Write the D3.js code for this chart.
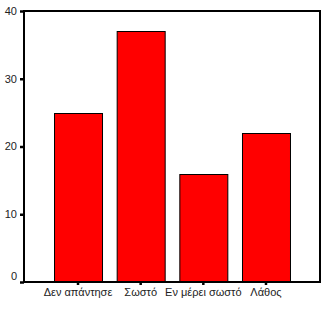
<!DOCTYPE html>
<html>
<head>
<meta charset="utf-8">
<script src="https://cdn.jsdelivr.net/npm/d3@7"></script>
<style>
  body { margin: 0; background: #fff; }
  svg { display: block; }
  .axis text { font-family: "Liberation Sans", Arial, sans-serif; font-size: 11px; fill: #222; }
  .axis path { display: none; }
  .axis line { stroke: #000; stroke-width: 2.5; }
</style>
</head>
<body>
<script>
var categories = ["Δεν απάντησε", "Σωστό", "Εν μέρει σωστό", "Λάθος"];
var counts = [25, 37, 16, 22];
var yTicks = [0, 10, 20, 30, 40];

var margin = {top: 11, right: 12, bottom: 27, left: 24}
  , width = 332 - margin.left - margin.right
  , height = 309 - margin.top - margin.bottom;

var xScale = d3.scaleBand().domain(categories).range([0, width])
    .paddingInner(0.234).paddingOuter(0.479);
var yScale = d3.scaleLinear().domain([0, 40]).range([height, 0]);

var svg = d3.select("body").append("svg")
    .attr("width", 332)
    .attr("height", 309)
  .append("g")
    .attr("transform", "translate(" + margin.left + "," + margin.top + ")");

svg.selectAll(".bar")
    .data(counts)
  .enter().append("rect")
    .attr("class", "bar")
    .attr("x", function(d, i) { return xScale(categories[i]) + 0.5; })
    .attr("y", function(d) { return Math.round(yScale(d)) + 0.5; })
    .attr("width", xScale.bandwidth())
    .attr("height", function(d) { return height - Math.round(yScale(d)); })
    .attr("fill", "#ff0000")
    .attr("stroke", "#000")
    .attr("stroke-width", 1);

// frame round the plot
svg.append("rect")
    .attr("x", 0).attr("y", 0)
    .attr("width", width).attr("height", height)
    .attr("fill", "none")
    .attr("stroke", "#000")
    .attr("stroke-width", 2);

svg.append("g")
    .attr("class", "x axis")
    .attr("transform", "translate(0," + height + ")")
    .call(d3.axisBottom(xScale).tickSize(3).tickPadding(3));

svg.append("g")
    .attr("class", "y axis")
    .call(d3.axisLeft(yScale).tickValues(yTicks).tickSize(4).tickPadding(3));

// the zero label sits a little above the axis line
svg.selectAll(".y.axis text")
    .attr("dy", function(d) { return d === 0 ? "-0.25em" : "0.3em"; });
</script>
</body>
</html>
